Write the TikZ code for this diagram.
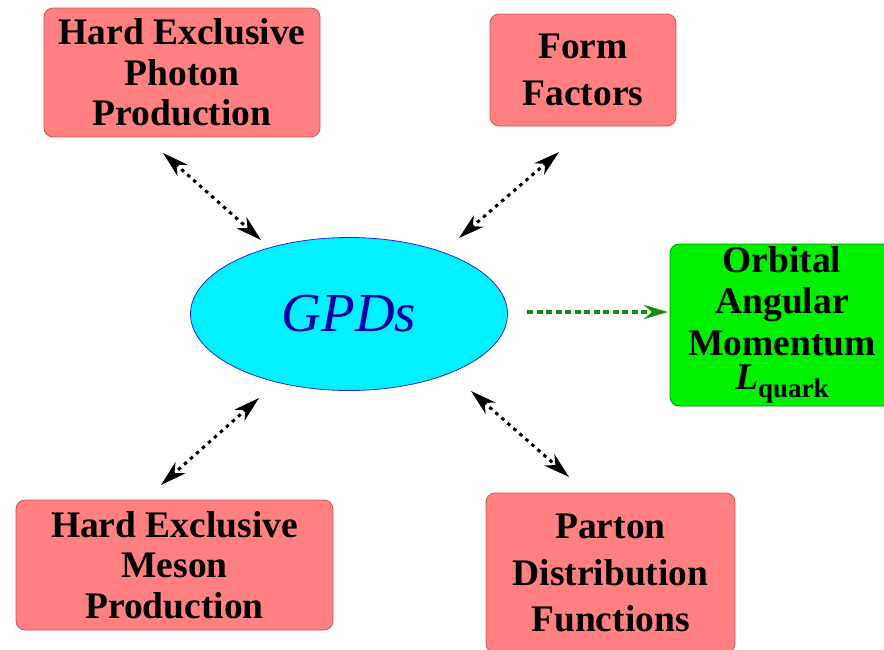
\documentclass[tikz,border=0pt]{standalone}
\usepackage{fontspec}
\setmainfont{Liberation Serif}
\usetikzlibrary{arrows.meta,shapes.geometric}
\definecolor{boxred}{RGB}{255,128,128}
\definecolor{boxredline}{RGB}{200,90,90}
\definecolor{boxgreen}{RGB}{0,240,0}
\definecolor{boxgreenline}{RGB}{0,150,0}
\definecolor{ellcyan}{RGB}{0,240,255}
\definecolor{ellline}{RGB}{40,40,220}
\definecolor{gpdtext}{RGB}{0,0,170}
\definecolor{arrowgreen}{RGB}{20,140,20}
\tikzset{
  infobox/.style={rectangle, rounded corners=9pt, fill=boxred, draw=boxredline, line width=0.8pt,
    align=center, inner sep=0pt, font=\fontsize{37.5}{40.5}\selectfont\bfseries},
  greenbox/.style={infobox, fill=boxgreen, draw=boxgreenline},
  dotarrow/.style={line width=3pt, dash pattern=on 3.5pt off 4.5pt,
    {Stealth[length=26pt,width=15pt,inset=8pt]}-{Stealth[length=26pt,width=15pt,inset=8pt]}},
  greenarrow/.style={line width=4pt, color=arrowgreen, dash pattern=on 6pt off 3.5pt,
    -{Stealth[length=24pt,width=14pt,inset=8pt]}}
}
\begin{document}
\begin{tikzpicture}[x=1pt,y=-1pt]
\useasboundingbox (0,0) rectangle (884,649);
\node[infobox, minimum width=276pt, minimum height=129pt] (hepp) at (182,72.5)
  {Hard Exclusive\\Photon\\Production};
\node[infobox, minimum width=186pt, minimum height=112pt, font=\fontsize{37.5}{47}\selectfont\bfseries] (ff) at (583,70)
  {Form\\Factors};
\node[ellipse, fill=ellcyan, draw=ellline, line width=0.8pt, minimum width=317pt, minimum height=153pt, inner sep=0pt] (gpd) at (349,314)
  {\fontsize{55}{55}\selectfont\itshape\color{gpdtext}GPDs};
\node[greenbox, minimum width=224pt, minimum height=162pt, font=\fontsize{37.5}{41.5}\selectfont\bfseries] (oam) at (782,325)
  {Orbital\\Angular\\Momentum\\[-7pt]\textit{L}\raisebox{-8pt}{\fontsize{27}{27}\selectfont quark}};
\node[infobox, minimum width=317pt, minimum height=130pt] (hemp) at (174.5,565)
  {Hard Exclusive\\Meson\\Production};
\node[infobox, minimum width=249pt, minimum height=160pt, font=\fontsize{37.5}{46.5}\selectfont\bfseries] (pdf) at (610.5,573)
  {Parton\\Distribution\\Functions};
\coordinate (a1) at (163,153);
\coordinate (a2) at (261,240);
\coordinate (b1) at (559,152);
\coordinate (b2) at (459,238);
\coordinate (c1) at (259,398);
\coordinate (c2) at (161,485);
\coordinate (d1) at (471,391);
\coordinate (d2) at (569,477);
\coordinate (g1) at (527,312);
\coordinate (g2) at (668,312);
\draw[dotarrow] (a1) -- (a2);
\draw[dotarrow] (b1) -- (b2);
\draw[dotarrow] (c1) -- (c2);
\draw[dotarrow] (d1) -- (d2);
\draw[greenarrow] (g1) -- (g2);
\end{tikzpicture}
\end{document}
